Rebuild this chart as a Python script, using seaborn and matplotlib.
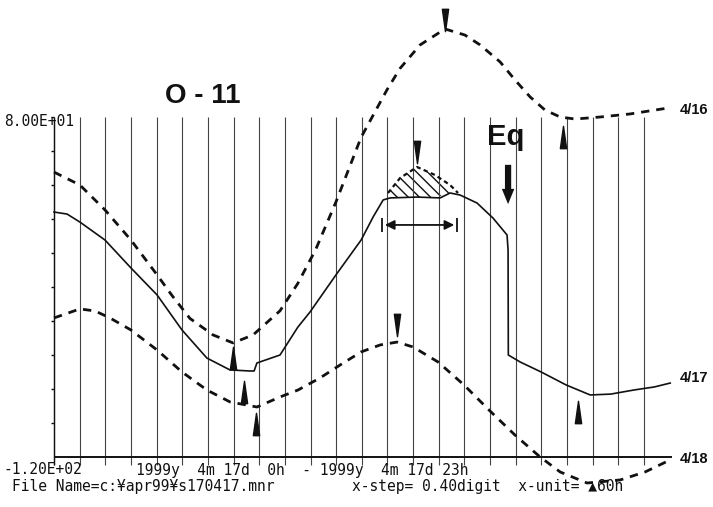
import numpy as np
import pandas as pd
import matplotlib
matplotlib.use("Agg")
import matplotlib.pyplot as plt
import seaborn as sns
from matplotlib.path import Path

# ---------------- data (x in x-step grid units, y in chart units) ----------------
solid_x = [0, 0.51, 1.01, 1.99, 3.0, 4.02, 4.99, 5.96, 6.86, 7.64, 7.80, 7.91, 8.81, 9.51,
           9.98, 10.99, 11.97, 12.44, 12.83, 13.10, 14.15, 15.05, 15.44, 15.83, 16.49,
           17.11, 17.66, 17.70, 17.71, 18.17, 18.99, 19.96, 20.90, 21.70, 22.60, 23.40, 24.02]
solid_y = [24.1, 22.9, 18.2, 7.6, -8.8, -24.7, -45.3, -61.8, -68.8, -69.4, -69.4, -64.7, -60.0, -43.5,
           -34.7, -12.9, 7.6, 21.2, 31.2, 32.4, 32.9, 32.4, 35.3, 34.1, 29.4,
           20.6, 10.6, 1.8, -60.0, -64.1, -70.0, -77.6, -83.5, -83.0, -80.6, -78.8, -76.5]

upper_x = [0, 1.01, 1.99, 3.0, 4.02, 4.60, 5.30, 6.20, 6.98, 7.76, 8.81, 9.50, 10.2,
           10.99, 11.97, 12.98, 13.49, 14.27, 15.24, 16.02, 16.61, 17.39, 17.97, 18.56,
           19.14, 19.73, 20.31, 21.29, 22.46, 23.94]
upper_y = [47.6, 40.0, 25.3, 7.6, -12.9, -25.0, -38.5, -48.2, -52.9, -48.2, -34.0, -18.0, 2.0,
           30.0, 68.0, 96.0, 108.6, 122.4, 131.8, 128.2, 122.4, 112.4, 101.8, 91.8,
           84.1, 80.0, 78.8, 80.0, 81.8, 85.3]

lower_x = [0, 1.01, 1.60, 2.18, 3.0, 4.02, 4.99, 5.96, 6.86, 7.91, 8.81, 9.51, 10.37, 11.15,
           11.97, 12.71, 13.37, 14.00, 14.97, 15.98, 16.96, 17.97, 18.95, 19.73, 20.78,
           22.07, 23.04, 24.09]
lower_y = [-38.2, -32.9, -34.1, -38.2, -45.3, -57.1, -70.0, -80.6, -87.6, -90.6, -84.7, -80.6, -73.5, -65.9,
           -58.2, -54.1, -52.4, -55.3, -64.1, -77.6, -92.4, -107.1, -120.0, -128.8, -135.3,
           -133.5, -128.8, -121.2]

hatch_x = [13.02, 13.49, 14.15, 14.85, 15.44, 15.75]
hatch_y = [35.3, 44.1, 50.6, 45.9, 40.0, 35.3]

# arrow markers: (x, y)
down_arrows_x = [15.24, 14.15, 13.37]
down_arrows_y = [137.0, 59.4, -42.4]
up_arrows_x = [6.98, 7.41, 7.88, 19.84, 20.43]
up_arrows_y = [-61.8, -81.8, -100.6, 68.2, -93.5]

grid_x = list(range(24))
y_ticks = [-100, -80, -60, -40, -20, 0, 20, 40, 60, 80]
y_min, y_max = -120, 80
x_end = 24.09

curve_labels = ["4/16", "4/17", "4/18"]
curve_label_y = [84.1, -73.5, -121.2]

# ---------------- figure ----------------
W, H = 713, 507
fig = plt.figure(figsize=(W / 100, H / 100), dpi=100)
fig.patch.set_facecolor("white")
ax = fig.add_axes([54 / W, 50 / H, 618 / W, 457 / H])
ax.set_xlim(0, x_end)
ax.set_ylim(y_min, 80 + 117 * 20 / 34)
ax.axis("off")

ink = "#111111"
# vertical grid lines
ax.vlines(grid_x, y_min - 4.7, y_max, color="#444444", lw=0.8, clip_on=False)
ax.vlines([0], y_min - 4.7, y_max, color=ink, lw=1.0, clip_on=False)
# left ticks
ax.hlines(y_ticks, -0.12, 0, color=ink, lw=1.0, clip_on=False)
# bottom axis
ax.hlines([y_min], 0, x_end, color=ink, lw=1.4, clip_on=False)

df_s = pd.DataFrame({"x": solid_x, "y": solid_y})
df_u = pd.DataFrame({"x": upper_x, "y": upper_y})
df_l = pd.DataFrame({"x": lower_x, "y": lower_y})
df_h = pd.DataFrame({"x": hatch_x, "y": hatch_y})

sns.lineplot(data=df_s, x="x", y="y", ax=ax, color=ink, lw=1.2, sort=False,
             estimator=None, clip_on=False)
for d in (df_u, df_l):
    sns.lineplot(data=d, x="x", y="y", ax=ax, color=ink, lw=2.0, sort=False,
                 estimator=None, clip_on=False, linestyle=(0, (3, 2.5)))
sns.lineplot(data=df_h, x="x", y="y", ax=ax, color=ink, lw=1.6, sort=False,
             estimator=None, clip_on=False, linestyle=(0, (2, 1.5)))

# hatched area between small dashed arc and solid line
hx = np.array(hatch_x)
base = np.interp(hx, solid_x, solid_y)
matplotlib.rcParams["hatch.linewidth"] = 1.0
ax.fill_between(hx, base, hatch_y, facecolor="none", edgecolor=ink, hatch="\\\\\\", lw=0)

# narrow triangle markers
down_m = Path([(-0.28, 1), (0.28, 1), (0, -1), (-0.28, 1)], [1, 2, 2, 79])
up_m = Path([(-0.28, -1), (0.28, -1), (0, 1), (-0.28, -1)], [1, 2, 2, 79])
ax.scatter(down_arrows_x, down_arrows_y, marker=down_m, s=260, color=ink, clip_on=False, zorder=5)
ax.scatter(up_arrows_x, up_arrows_y, marker=up_m, s=260, color=ink, clip_on=False, zorder=5)

# double headed arrow
ax.annotate("", xy=(12.79, 16.5), xytext=(15.71, 16.5),
            arrowprops=dict(arrowstyle="<|-|>", color=ink, lw=1.3, mutation_scale=14))
ax.vlines([12.79, 15.71], 12.4, 20.6, color=ink, lw=1.3)

# Eq arrow
ax.annotate("", xy=(17.70, 27.1), xytext=(17.70, 53.5),
            arrowprops=dict(arrowstyle="simple,head_width=0.9,head_length=1.1,tail_width=0.45",
                            color=ink, lw=0))
# curve labels
for lab, ly in zip(curve_labels, curve_label_y):
    ax.text(x_end + 0.3, ly, lab, ha="left", va="center", fontsize=10.5, fontweight="bold",
            family="Liberation Sans", color=ink, clip_on=False)

def ftext(px, py, s, **kw):
    fig.text(px / W, 1 - py / H, s, **kw)

mono = dict(family="DejaVu Sans Mono", fontsize=10.5, color=ink, va="center", ha="left")
ftext(4, 122, "8.00E+01", **mono)
ftext(4, 470, "-1.20E+02", **mono)
ftext(136, 470, "1999y  4m 17d  0h  - 1999y  4m 17d 23h", **mono)
ftext(12, 487, "File Name=c:\u00a5apr99\u00a5s170417.mnr", **mono)
ftext(352, 487, "x-step= 0.40digit  x-unit= \u25b260h", **mono)

ftext(165, 96, "O - 11", family="Liberation Sans", fontsize=20, fontweight="bold",
      color=ink, va="center", ha="left")
ftext(487, 137, "Eq", family="Liberation Sans", fontsize=21,
      fontweight="bold", color=ink, va="center", ha="left")

fig.savefig("out.png", dpi=100, facecolor="white")
